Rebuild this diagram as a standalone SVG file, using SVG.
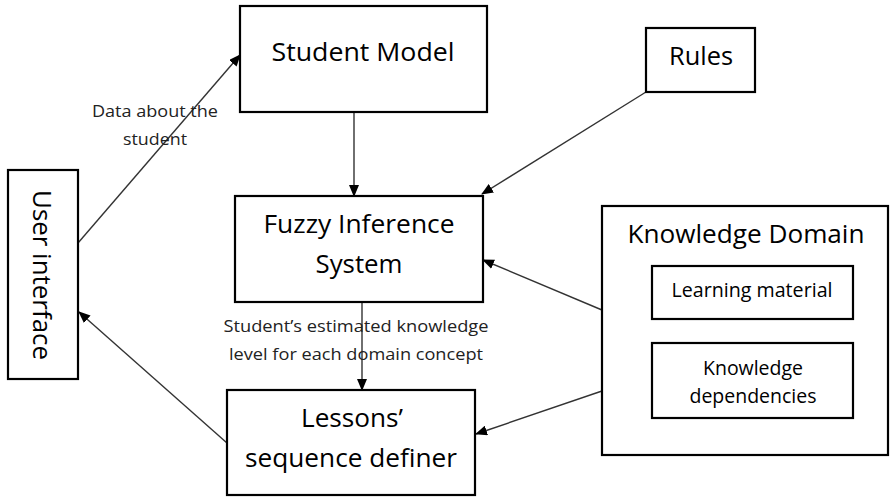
<svg xmlns="http://www.w3.org/2000/svg" width="890" height="497" viewBox="0 0 890 497">
<defs>
<marker id="ah" markerWidth="12" markerHeight="10" refX="11" refY="5" orient="auto" markerUnits="userSpaceOnUse">
<path d="M0,0 L12,5 L0,10 Z" fill="#000"/>
</marker>
<style>
.box{fill:#fff;stroke:#000;stroke-width:2.2}
.t{font-family:"Open Sans","Noto Sans",sans-serif;fill:#000;text-anchor:middle}
.big{font-size:25px}
.mid{font-size:20px}
.sm{font-size:16px;fill:#222}
.c{stroke:#333;stroke-width:1.4;fill:none;marker-end:url(#ah)}
</style>
</defs>
<rect width="890" height="497" fill="#fff"/>
<g id="connectors">
<line class="c" x1="78" y1="243" x2="240" y2="55"/>
<line class="c" x1="354" y1="112" x2="354" y2="196"/>
<line class="c" x1="646" y1="92" x2="482" y2="194"/>
<line class="c" x1="602" y1="310" x2="483" y2="260"/>
<line class="c" x1="602" y1="391" x2="476" y2="434"/>
<line class="c" x1="362" y1="302" x2="362" y2="390"/>
<line class="c" x1="227" y1="443" x2="79" y2="312"/>
</g>
<g id="label-data">
<text class="t sm" x="155" y="117" textLength="126" lengthAdjust="spacingAndGlyphs">Data about the</text>
<text class="t sm" x="155" y="145" textLength="64" lengthAdjust="spacingAndGlyphs">student</text>
</g>
<g id="label-estimate">
<text class="t sm" x="356" y="332" textLength="265" lengthAdjust="spacingAndGlyphs">Student’s estimated knowledge</text>
<text class="t sm" x="356" y="360" textLength="254" lengthAdjust="spacingAndGlyphs">level for each domain concept</text>
</g>
<g id="student-model">
<rect class="box" x="240" y="6" width="247" height="106"/>
<text class="t big" x="363" y="61" textLength="183" lengthAdjust="spacingAndGlyphs">Student Model</text>
</g>
<g id="rules">
<rect class="box" x="646" y="28" width="109" height="64"/>
<text class="t big" x="701" y="65" textLength="64" lengthAdjust="spacingAndGlyphs">Rules</text>
</g>
<g id="fuzzy">
<rect class="box" x="235" y="196" width="248" height="106"/>
<text class="t big" x="359" y="233" textLength="191" lengthAdjust="spacingAndGlyphs">Fuzzy Inference</text>
<text class="t big" x="359" y="273" textLength="87" lengthAdjust="spacingAndGlyphs">System</text>
</g>
<g id="lessons">
<rect class="box" x="227" y="390" width="248" height="105"/>
<text class="t big" x="352" y="427" textLength="102" lengthAdjust="spacingAndGlyphs">Lessons’</text>
<text class="t big" x="351" y="467" textLength="212" lengthAdjust="spacingAndGlyphs">sequence definer</text>
</g>
<g id="user-interface">
<rect class="box" x="8" y="170" width="70" height="209"/>
<text class="t big" transform="translate(33,275) rotate(90)" x="0" y="0" textLength="170" lengthAdjust="spacingAndGlyphs">User interface</text>
</g>
<g id="knowledge-domain">
<rect class="box" x="602" y="206" width="286" height="249"/>
<text class="t big" x="746" y="243" textLength="237" lengthAdjust="spacingAndGlyphs">Knowledge Domain</text>
<g id="learning-material">
<rect class="box" x="652" y="266" width="201" height="53"/>
<text class="t mid" x="752" y="297" textLength="161" lengthAdjust="spacingAndGlyphs">Learning material</text>
</g>
<g id="knowledge-dependencies">
<rect class="box" x="652" y="343" width="201" height="75"/>
<text class="t mid" x="753" y="375" textLength="100" lengthAdjust="spacingAndGlyphs">Knowledge</text>
<text class="t mid" x="753" y="403" textLength="127" lengthAdjust="spacingAndGlyphs">dependencies</text>
</g>
</g>
</svg>
